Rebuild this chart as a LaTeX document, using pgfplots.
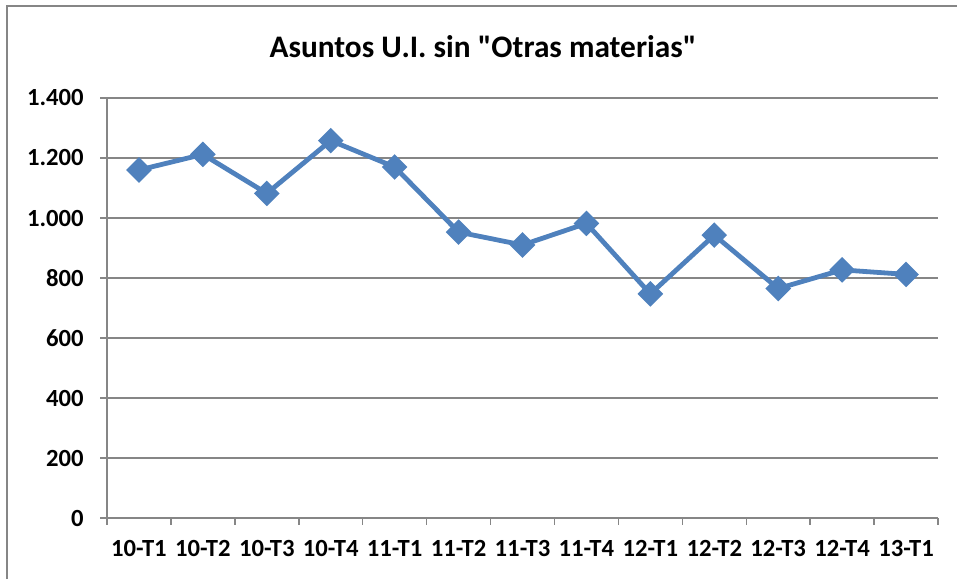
\documentclass[border=0pt]{standalone}
\usepackage{pgfplots}
\pgfplotsset{compat=1.18}
\usepackage{fontspec}
\setmainfont[Ligatures=TeXOff]{Carlito}
\definecolor{serie}{RGB}{79,129,189}
\definecolor{gridg}{RGB}{134,134,134}
\begin{document}
\begin{tikzpicture}
\useasboundingbox (0,0) rectangle (717.75pt,434.25pt);
\draw[gridg,line width=1.2pt] (5.25pt,0) -- (5.25pt,429.75pt) -- (717.75pt,429.75pt);
\node[font=\fontsize{23.5}{28}\selectfont\bfseries] at (362.25pt,399pt) {Asuntos U.I. sin "Otras materias"};
\begin{axis}[
  at={(80.25pt,45.75pt)}, anchor=south west,
  scale only axis, width=623.25pt, height=315pt,
  xmin=0, xmax=13, ymin=0, ymax=1400,
  xtick={0,...,13},
  xticklabels={10-T1,10-T2,10-T3,10-T4,11-T1,11-T2,11-T3,11-T4,12-T1,12-T2,12-T3,12-T4,13-T1},
  x tick label as interval,
  ytick={0,200,400,600,800,1000,1200,1400},
  yticklabels={0,200,400,600,800,1.000,1.200,1.400},
  ymajorgrids, major grid style={gridg,line width=1.1pt},
  axis line style={gridg,line width=1.1pt},
  axis x line*=bottom, axis y line*=left,
  tick style={gridg,line width=1.1pt},
  major tick length=5pt,
  tick align=outside,
  xtick pos=bottom, ytick pos=left,
  ticklabel style={font=\fontsize{18.5}{22}\selectfont\bfseries},
  yticklabel style={xshift=-9pt},
  xticklabel style={yshift=-8pt},
  clip=false,
]
\addplot[serie, line width=3.6pt, mark=square*, mark size=5pt,
  mark options={rotate=45, solid, fill=serie}]
 coordinates {
 (0.5,1160) (1.5,1212) (2.5,1082) (3.5,1258) (4.5,1170) (5.5,953)
 (6.5,910) (7.5,982) (8.5,747) (9.5,943) (10.5,765) (11.5,827) (12.5,812)
 };
\end{axis}
\end{tikzpicture}
\end{document}
